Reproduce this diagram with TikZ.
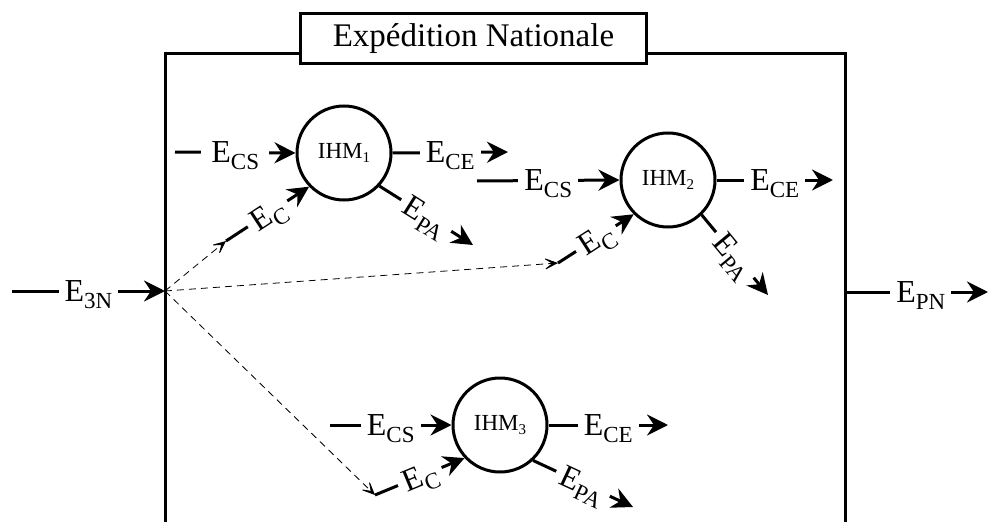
\documentclass[tikz,border=0pt]{standalone}
\usepackage{fontspec}
\setmainfont{Liberation Serif}
\usetikzlibrary{arrows.meta}
\newcommand{\Esub}[1]{E\raisebox{-7pt}[0pt][0pt]{\fontsize{23pt}{23pt}\selectfont #1}}
\newcommand{\ihmlabel}[1]{IHM\raisebox{-4pt}{\fontsize{15pt}{15pt}\selectfont #1}}
\begin{document}
\begin{tikzpicture}[x=1pt,y=-1pt,
  conn/.style={line width=3pt,-{Stealth[length=21pt,width=21pt,inset=7pt]}},
  dconn/.style={line width=0.8pt,dash pattern=on 7pt off 5pt,-{Stealth[length=16pt,width=14pt,inset=10pt]}},
  lbl/.style={fill=white,inner xsep=6pt,inner ysep=2pt,font=\fontsize{32pt}{32pt}\selectfont},
  proc/.style={circle,draw,line width=3pt,minimum size=94pt,inner sep=0pt,font=\fontsize{23pt}{23pt}\selectfont},
  framebox/.style={draw,fill=white,line width=3pt,minimum width=346pt,minimum height=50pt,inner sep=0pt,font=\fontsize{33pt}{33pt}\selectfont},
]
\useasboundingbox (0,0) rectangle (989,522);

% main frame
\draw[line width=3pt] (165,540) -- (165,53) -- (845,53) -- (845,540);
\node[framebox] (title) at (473.5,38.5) {Expédition Nationale};

% processes
\node[proc] (c1) at (344,153) {\ihmlabel{1}};
\node[proc] (c2) at (668,180) {\ihmlabel{2}};
\node[proc] (c3) at (500,425) {\ihmlabel{3}};

% coordinates
\coordinate (in) at (12,291);
\coordinate (src) at (165,291);
\coordinate (out) at (845,292);
\coordinate (pnend) at (988,292);
\coordinate (j1) at (226,241);
\coordinate (j2) at (558,263);
\coordinate (j3) at (375,495);
\coordinate (s1) at (175,152);
\coordinate (s2) at (477,181);
\coordinate (s3) at (330,425);
\coordinate (e1) at (508,152);
\coordinate (e2) at (833,180);
\coordinate (e3) at (668,425);
\coordinate (p1) at (473,245);
\coordinate (p2) at (768,295);
\coordinate (p3) at (633,507);

% dashed distribution
\draw[dconn] (src) -- (j1);
\draw[dconn] (src) -- (j2);
\draw[dconn] (src) -- (j3);

% input / output of the frame
\draw[conn] (in) -- node[lbl]{\Esub{3N}} (src);
\draw[conn] (out) -- node[lbl,pos=0.53]{\Esub{PN}} (pnend);

% IHM1
\draw[conn] (s1) -- node[lbl,inner xsep=10pt]{\Esub{CS}} (c1.west);
\draw[conn] (c1.east) -- node[lbl]{\Esub{CE}} (e1);
\draw[conn] (c1.-43) -- node[lbl,sloped]{\Esub{PA}} (p1);
\draw[conn] (j1) -- node[lbl,sloped]{\Esub{C}} (c1.-136);

% IHM2
\draw[conn] (s2) -- node[lbl]{\Esub{CS}} (c2.west);
\draw[conn] (c2.east) -- node[lbl]{\Esub{CE}} (e2);
\draw[conn] (c2.-46) -- node[lbl,sloped]{\Esub{PA}} (p2);
\draw[conn] (j2) -- node[lbl,sloped]{\Esub{C}} (c2.-135);

% IHM3
\draw[conn] (s3) -- node[lbl]{\Esub{CS}} (c3.west);
\draw[conn] (c3.east) -- node[lbl]{\Esub{CE}} (e3);
\draw[conn] (c3.-47) -- node[lbl,sloped]{\Esub{PA}} (p3);
\draw[conn] (j3) -- node[lbl,sloped]{\Esub{C}} (c3.-137);
\end{tikzpicture}
\end{document}
